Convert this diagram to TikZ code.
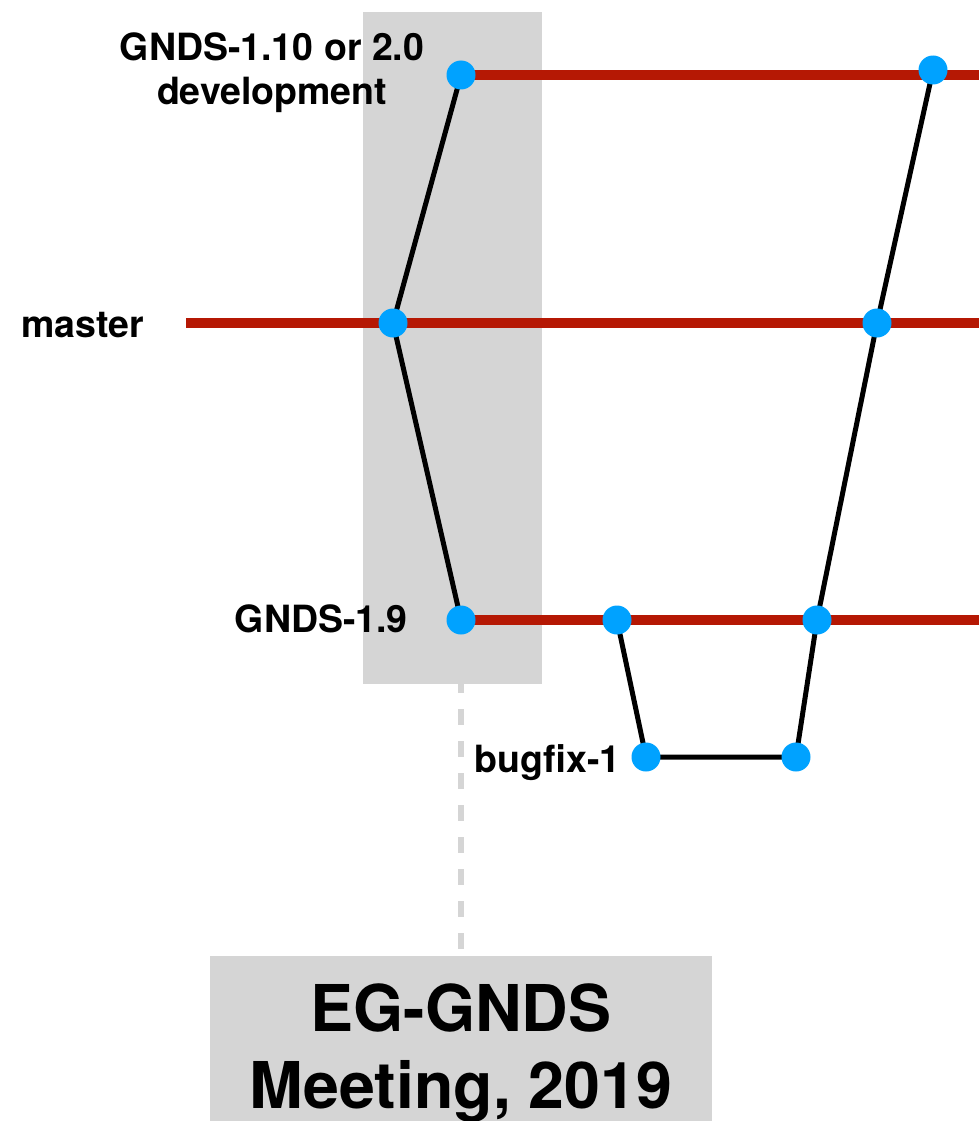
\documentclass[tikz,border=0pt]{standalone}
\usepackage{fontspec}
\setmainfont{TeX Gyre Heros}
\definecolor{branchred}{RGB}{181, 24, 4}
\definecolor{commitblue}{RGB}{0, 162, 255}
\definecolor{bandgray}{RGB}{213, 213, 213}
\usetikzlibrary{positioning}
\pgfdeclarelayer{back}
\pgfdeclarelayer{lines}
\pgfsetlayers{back,lines,main}
\tikzset{
  commit/.style={circle, fill=commitblue, inner sep=0pt, minimum size=29pt},
  branch/.style={draw=branchred, line width=10pt},
  merge/.style={draw=black, line width=5pt, line join=round},
  tieline/.style={draw=bandgray, line width=6pt, dash pattern=on 16pt off 16pt, dash phase=7pt},
  brlabel/.style={font=\fontsize{37.5}{44}\selectfont\bfseries, inner sep=0pt, align=center}
}

\begin{document}
\begin{tikzpicture}[x=1pt, y=-1pt]
  \useasboundingbox (0,0) rectangle (979,1121);
  \clip (0,0) rectangle (979,1121);

  % Meeting band
  \begin{pgfonlayer}{back}
    \node[fill=bandgray, inner sep=0pt, minimum width=179pt, minimum height=672pt] (band) at (452.5,348) {};
  \end{pgfonlayer}

  % Commits
  \node[commit] (dev0) at (461,75) {};
  \node[commit] (dev1) at (933,70) {};
  \node[commit] (mst0) at (393,323) {};
  \node[commit] (mst1) at (877,323) {};
  \node[commit] (v190) at (461,620) {};
  \node[commit] (v191) at (617,620) {};
  \node[commit] (v192) at (817,620) {};
  \node[commit] (bug0) at (646,757) {};
  \node[commit] (bug1) at (796,757) {};

  \coordinate (devR) at (979,75);
  \coordinate (mstL) at (186,323);
  \coordinate (mstR) at (979,323);
  \coordinate (v19R) at (979,620);

  % Branch names
  \node[brlabel] (devlabel) at (272,72.5) {GNDS-1.10 or 2.0\\development};
  \node[brlabel, anchor=base east] (mstlabel) at (144,337) {master};
  \node[brlabel, anchor=base east] (v19label) at (408,632) {GNDS-1.9};
  \node[brlabel, anchor=base east] (buglabel) at (621,772) {bugfix-1};

  % Meeting
  \node[fill=bandgray, anchor=north, minimum width=502pt, minimum height=194pt, inner sep=0pt,
        font=\fontsize{64.5}{77}\selectfont\bfseries, align=center] (meeting) at (461,956) {EG-GNDS\\Meeting, 2019};

  % Branches and merges
  \begin{pgfonlayer}{lines}
    \draw[branch] (dev0.center) -- (devR);
    \draw[branch] (mstL) -- (mstR);
    \draw[branch] (v190.center) -- (v19R);
    \draw[merge] (dev0.center) -- (mst0.center) -- (v190.center);
    \draw[merge] (v191.center) -- (bug0.center) -- (bug1.center) -- (v192.center) -- (mst1.center) -- (dev1.center);
    \draw[tieline] (v190 |- band.south) -- (v190 |- meeting.north);
  \end{pgfonlayer}
\end{tikzpicture}
\end{document}
